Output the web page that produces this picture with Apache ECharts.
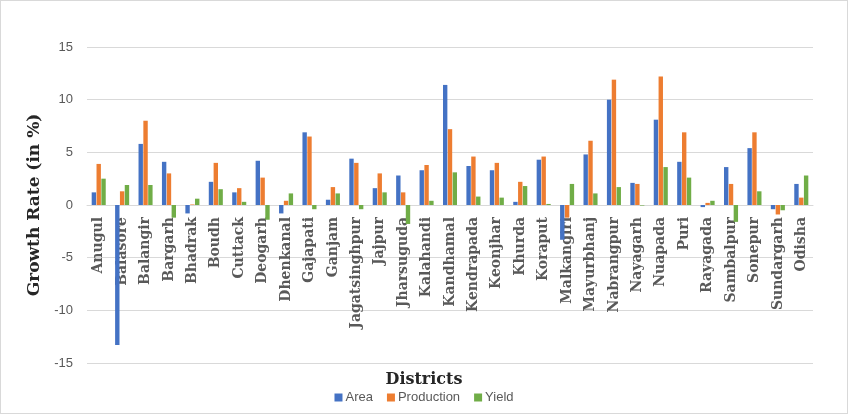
<!DOCTYPE html>
<html>
<head>
<meta charset="utf-8">
<script src="https://cdn.jsdelivr.net/npm/echarts@6/dist/echarts.min.js"></script>
<style>
  html, body { margin: 0; padding: 0; background: #fff; }
  #chart { width: 846px; height: 412px; border: 1px solid #d9d9d9; }
</style>
</head>
<body>
<div id="chart"></div>
<script>
// districts on the x axis
const districts = ["Anugul", "Balasore", "Balangir", "Bargarh", "Bhadrak", "Boudh", "Cuttack", "Deogarh",
  "Dhenkanal", "Gajapati", "Ganjam", "Jagatsinghpur", "Jajpur", "Jharsuguda", "Kalahandi", "Kandhamal",
  "Kendrapada", "Keonjhar", "Khurda", "Koraput", "Malkangiri", "Mayurbhanj", "Nabrangpur", "Nayagarh",
  "Nuapada", "Puri", "Rayagada", "Sambalpur", "Sonepur", "Sundargarh", "Odisha"];

// growth rates (in %)
const area = [1.2, -13.3, 5.8, 4.1, -0.8, 2.2, 1.2, 4.2,
  -0.8, 6.9, 0.5, 4.4, 1.6, 2.8, 3.3, 11.4,
  3.7, 3.3, 0.3, 4.3, -3.3, 4.8, 10.0, 2.1,
  8.1, 4.1, -0.2, 3.6, 5.4, -0.4, 2.0];
const production = [3.9, 1.3, 8.0, 3.0, 0.05, 4.0, 1.6, 2.6,
  0.4, 6.5, 1.7, 4.0, 3.0, 1.2, 3.8, 7.2,
  4.6, 4.0, 2.2, 4.6, -1.2, 6.1, 11.9, 2.0,
  12.2, 6.9, 0.2, 2.0, 6.9, -0.9, 0.7];
const yieldRate = [2.5, 1.9, 1.9, -1.2, 0.6, 1.5, 0.3, -1.4,
  1.1, -0.4, 1.1, -0.4, 1.2, -1.8, 0.4, 3.1,
  0.8, 0.7, 1.8, 0.1, 2.0, 1.1, 1.7, -0.05,
  3.6, 2.6, 0.4, -1.6, 1.3, -0.5, 2.8];

const yTicks = [-15, -10, -5, 0, 5, 10, 15];

const chart = echarts.init(document.getElementById("chart"));
const serif = "DejaVu Serif";
const sans = "Liberation Sans";

// grid placement (zero line sits in the middle since the axis is symmetric)
const gridTop = 46;
const gridBottom = 50;
const gridHeight = 412 - gridTop - gridBottom;

const option = {
  animation: false,
  title: {
    text: "Districts",
    left: "center",
    top: 366,
    textStyle: { fontFamily: serif, fontWeight: "bold", fontSize: 16, color: "#262626" }
  },
  legend: {
    top: 385,
    left: "center",
    itemWidth: 8,
    itemHeight: 8,
    itemGap: 14,
    icon: "rect",
    textStyle: { fontFamily: sans, fontSize: 13, color: "#595959", padding: [0, 0, 0, -2] },
    data: ["Area", "Production", "Yield"]
  },
  grid: { left: 86, right: 34, top: gridTop, bottom: gridBottom, containLabel: false },
  xAxis: {
    type: "category",
    data: districts,
    offset: -gridHeight / 2,
    axisLine: { onZero: false, lineStyle: { color: "#d9d9d9" } },
    axisTick: { show: false },
    axisLabel: {
      rotate: 90,
      interval: 0,
      margin: 12,
      fontFamily: serif,
      fontWeight: "bold",
      fontSize: 14,
      color: "#595959"
    }
  },
  yAxis: {
    type: "value",
    min: yTicks[0],
    max: yTicks[yTicks.length - 1],
    interval: 5,
    name: "Growth Rate (in %)",
    nameLocation: "middle",
    nameGap: 43,
    nameTextStyle: { fontFamily: serif, fontWeight: "bold", fontSize: 17, color: "#262626" },
    axisLine: { show: false },
    axisTick: { show: false },
    axisLabel: { fontFamily: sans, fontSize: 13, color: "#595959", margin: 14 },
    splitLine: { lineStyle: { color: "#d9d9d9" } }
  },
  // bars sit on their own layer so they cover the district names, as in the original
  series: [
    { name: "Area", type: "bar", zlevel: 1, data: area, itemStyle: { color: "#4472C4" }, barGap: "10%", barCategoryGap: "40%" },
    { name: "Production", type: "bar", zlevel: 1, data: production, itemStyle: { color: "#ED7D31" } },
    { name: "Yield", type: "bar", zlevel: 1, data: yieldRate, itemStyle: { color: "#70AD47" } }
  ]
};
chart.setOption(option);
</script>
</body>
</html>
